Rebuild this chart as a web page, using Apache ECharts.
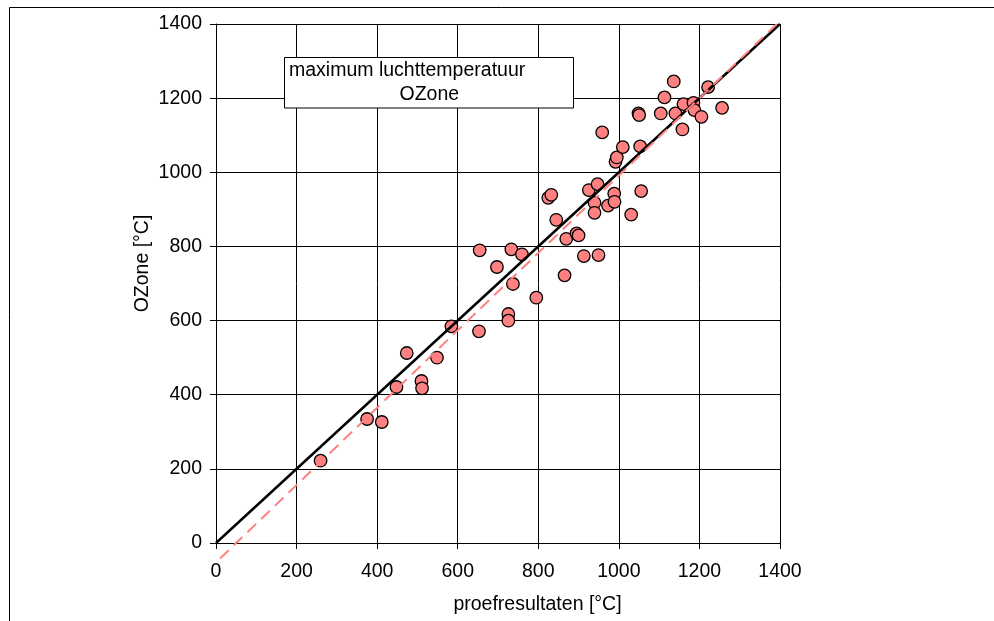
<!DOCTYPE html>
<html>
<head>
<meta charset="utf-8">
<script src="https://cdn.jsdelivr.net/npm/echarts@6/dist/echarts.min.js"></script>
<style>html,body{margin:0;padding:0;background:#fff;}#c{width:994px;height:621px;}</style>
</head>
<body>
<div id="c"></div>
<script>
// Measured values (proefresultaten vs OZone), °C
const proefX = [259.6, 375.1, 411.5, 448.0, 473.5, 510.0, 511.5, 548.6, 584.4, 652.8,
  725.7, 725.7, 737.1, 795.1, 697.4, 654.5, 733.1, 759.4, 844.6, 869.4,
  895.0, 900.0, 913.1, 949.5, 865.2, 824.8, 832.3, 925.5, 947.1, 939.6,
  939.6, 973.1, 988.5, 989.2, 1030.6, 1055.4, 991.7, 994.9, 1009.8, 1052.9,
  958.7, 1048.7, 1050.4, 1104.0, 1140.4, 1113.2, 1136.3, 1157.8, 1160.3, 1185.1,
  1187.5, 1204.9, 1221.5, 1256.2];
const ozoneY = [222.0, 334.5, 326.4, 420.8, 512.5, 437.0, 417.3, 499.9, 584.6, 571.1,
  617.7, 599.7, 698.7, 661.7, 744.5, 789.6, 792.2, 778.7, 871.8, 820.6,
  835.2, 829.8, 774.0, 776.7, 722.0, 931.2, 939.3, 952.0, 968.1, 917.7,
  890.7, 910.1, 942.5, 920.4, 885.8, 949.2, 1028.2, 1040.1, 1067.9, 1069.8,
  1107.6, 1158.8, 1154.2, 1158.8, 1158.8, 1202.0, 1245.1, 1115.6, 1183.9, 1187.4,
  1167.7, 1149.6, 1229.7, 1173.8];
// y = x reference line endpoints
const identityX = [0, 1400];
const identityY = [0, 1400];
// trend line endpoints
const trendX = [10, 1392];
const trendY = [-41.8, 1400];
// axis ticks
const axisMin = 0, axisMax = 1400, axisStep = 200;

const scatterData = proefX.map((x, i) => [x, ozoneY[i]]);
const identityData = identityX.map((x, i) => [x, identityY[i]]);
const trendData = trendX.map((x, i) => [x, trendY[i]]);

const FONT = 'Liberation Sans, Arial, sans-serif';
const FS = 19.5;
const chart = echarts.init(document.getElementById('c'), null, {renderer: 'canvas'});
const axisCommon = {
  type: 'value', min: axisMin, max: axisMax, interval: axisStep,
  axisLine: {show: true, lineStyle: {color: '#000', width: 1}},
  axisTick: {show: true, inside: false, length: 6, lineStyle: {color: '#000', width: 1}},
  splitLine: {show: true, lineStyle: {color: '#000', width: 1}},
  axisLabel: {color: '#000', fontSize: FS, fontFamily: FONT, formatter: v => String(v)}
};
chart.setOption({
  animation: false,
  backgroundColor: '#fff',
  grid: {left: 216, right: 214, top: 24, bottom: 78, containLabel: false},
  xAxis: Object.assign({}, axisCommon, {axisLabel: Object.assign({}, axisCommon.axisLabel, {margin: 19})}),
  yAxis: Object.assign({}, axisCommon, {axisLabel: Object.assign({}, axisCommon.axisLabel, {margin: 14})}),
  series: [
    {
      type: 'scatter', data: scatterData, symbol: 'circle', symbolSize: 12.5, z: 2,
      itemStyle: {color: '#FF8080', borderColor: '#000', borderWidth: 1.3, opacity: 1}
    },
    {
      type: 'line', data: identityData, showSymbol: false, symbol: 'none', clip: false, z: 3,
      lineStyle: {color: '#000', width: 2.5}
    },
    {
      type: 'line', data: trendData, showSymbol: false, symbol: 'none', clip: false, z: 4,
      lineStyle: {color: '#FF8080', width: 2, type: [12, 7]}
    }
  ],
  graphic: [
    {type: 'polyline', shape: {points: [[9.5, 621], [9.5, 7.5], [994, 7.5]]},
     style: {stroke: '#000', lineWidth: 1, fill: null}, z: 1},
    {type: 'rect', shape: {x: 284.5, y: 57.5, width: 289, height: 50.5},
     style: {fill: '#fff', stroke: '#000', lineWidth: 1}, z: 10},
    {type: 'text', x: 289, y: 70.5, z: 11,
     style: {text: 'maximum luchttemperatuur', fill: '#000', font: FS + 'px ' + FONT, textAlign: 'left', textVerticalAlign: 'middle'}},
    {type: 'text', x: 429.3, y: 94.2, z: 11,
     style: {text: 'OZone', fill: '#000', font: FS + 'px ' + FONT, textAlign: 'center', textVerticalAlign: 'middle'}},
    {type: 'text', x: 537.5, y: 605, z: 11,
     style: {text: 'proefresultaten [°C]', fill: '#000', font: FS + 'px ' + FONT, textAlign: 'center', textVerticalAlign: 'middle'}},
    {type: 'text', x: 142.5, y: 263.5, rotation: Math.PI / 2, z: 11,
     style: {text: 'OZone [°C]', fill: '#000', font: FS + 'px ' + FONT, textAlign: 'center', textVerticalAlign: 'middle'}}
  ]
});
</script>
</body>
</html>
